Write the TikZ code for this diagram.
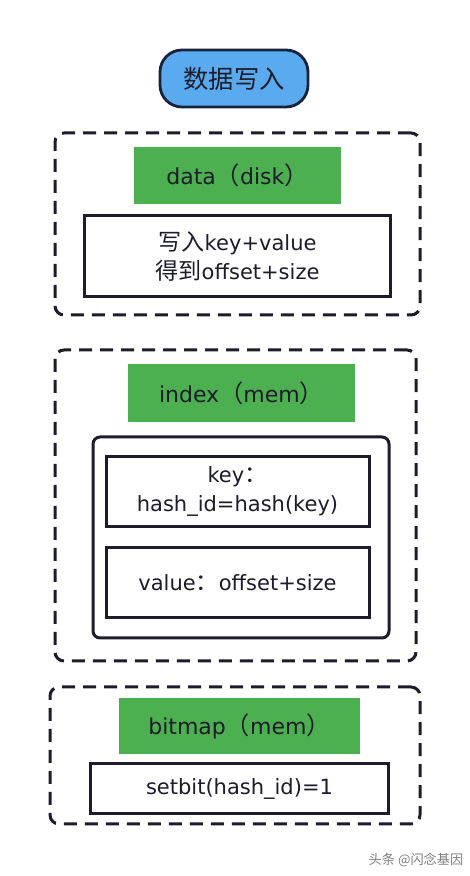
\documentclass[tikz,border=0pt]{standalone}
\usepackage{fontspec}
\setmainfont{DejaVu Sans}
\newfontfamily\cjk[Scale=1.1]{Noto Sans CJK SC}
\usepackage{xcolor}
\usetikzlibrary{positioning}

\definecolor{pillblue}{HTML}{5AAAF0}
\definecolor{pillline}{HTML}{17223B}
\definecolor{boxgreen}{HTML}{4CAF50}
\definecolor{inkdark}{HTML}{1C1C2A}

\begin{document}
\begin{tikzpicture}[
  x=1pt, y=1pt,
  every node/.style={font=\fontsize{21}{29}\selectfont, text=inkdark, outer sep=0pt, inner sep=0pt, align=center},
  pill/.style={draw=pillline, fill=pillblue, line width=2.8pt, rounded corners=22pt, minimum width=148pt, minimum height=57pt, font=\cjk\fontsize{23}{30}\selectfont},
  frame/.style={draw=inkdark, line width=3pt, dash pattern=on 13pt off 8pt, rounded corners=9pt},
  tag/.style={fill=boxgreen, minimum height=57pt, font=\fontsize{22}{29}\selectfont},
  cell/.style={draw=inkdark, line width=3pt, fill=white},
  holder/.style={draw=inkdark, line width=3pt, rounded corners=7pt}
]
\useasboundingbox[fill=white] (0,0) rectangle (470,876);

\node[pill] (title) at (234,797.5) {数据写入};

% data part
\node[frame, minimum width=365pt, minimum height=182pt] (diskframe) at (237.5,652) {};
\node[tag, minimum width=207pt] (data) at (237.5,700.5) {data{\cjk（}disk{\cjk）}};
\node[cell, minimum width=306pt, minimum height=81pt, below=12pt of data.south -| diskframe] (dwrite) {{\cjk 写入}key+value\\{\cjk 得到}offset+size};

% index part
\node[frame, minimum width=361pt, minimum height=311pt] (idxframe) at (235.5,370.5) {};
\node[tag, minimum width=227pt, minimum height=58pt] (index) at (241.5,483) {index{\cjk（}mem{\cjk）}};
\node[holder, minimum width=296pt, minimum height=201pt] (kv) at (241,338.5) {};
\node[cell, minimum width=263pt, minimum height=70pt] (key) at (237.5,384) {key{\cjk ：}\\hash\_id=hash(key)};
\node[cell, minimum width=263pt, minimum height=70pt, below=21pt of key] (value) {value{\cjk ：}offset+size};

% bitmap part
\node[frame, minimum width=370pt, minimum height=137pt] (bitframe) at (235,120.5) {};
\node[tag, minimum width=241pt, minimum height=56pt] (bitmap) at (239.5,150) {bitmap{\cjk（}mem{\cjk）}};
\node[cell, minimum width=298pt, minimum height=50pt, below=10pt of bitmap] (setbit) {setbit(hash\_id)=1};

\node[font=\cjk\fontsize{12}{15}\selectfont, text=gray] (mark) at (416,16) {头条 @闪念基因};
\end{tikzpicture}
\end{document}
